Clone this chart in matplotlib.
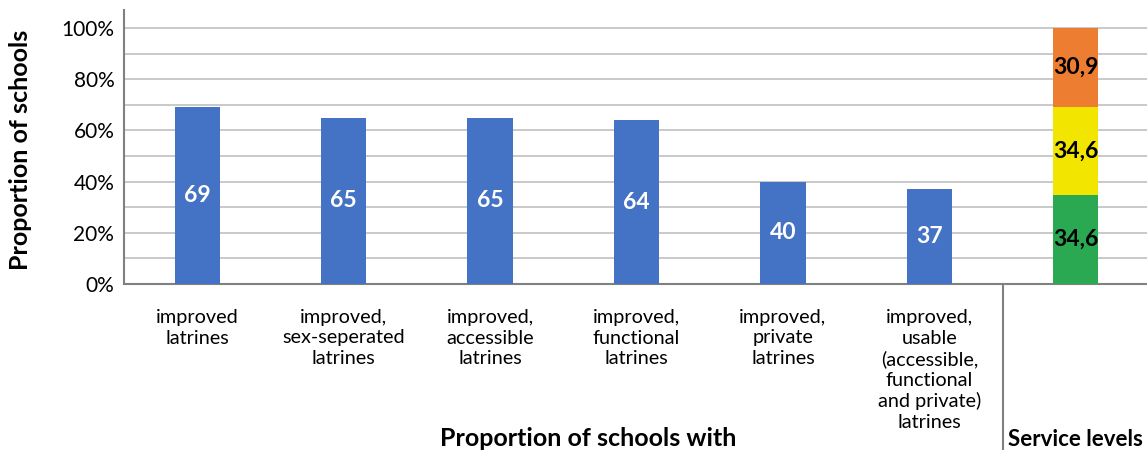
import matplotlib.pyplot as plt
import matplotlib.transforms as mtransforms
import numpy as np

plt.rcParams['font.family'] = ['Lato', 'DejaVu Sans']

categories = ['improved\nlatrines', 'improved,\nsex-seperated\nlatrines',
              'improved,\naccessible\nlatrines', 'improved,\nfunctional\nlatrines',
              'improved,\nprivate\nlatrines',
              'improved,\nusable\n(accessible,\nfunctional\nand private)\nlatrines']
values = [69, 65, 65, 64, 40, 37]

# service level stack (bottom to top)
service_values = [34.6, 34.6, 30.9]
service_labels = ['34,6', '34,6', '30,9']
service_colors = ['#2aa952', '#f2e600', '#ed7d31']

fig = plt.figure(figsize=(11.47, 4.5), dpi=100)
ax = fig.add_axes([124 / 1147, 166 / 450, 1025 / 1147, 274 / 450])

x = np.arange(len(categories))
w = 0.31
ax.bar(x, np.array(values) / 100, width=w, color='#4472c4', zorder=3)
for xi, v in zip(x, values):
    ax.text(xi, v / 200, str(v), ha='center', va='center', color='white',
            fontsize=16.5, fontweight='bold', zorder=4)

xs = len(categories)
bottom = 0
for v, lab, c in zip(service_values, service_labels, service_colors):
    ax.bar(xs, v / 100, bottom=bottom / 100, width=w, color=c, zorder=3)
    ax.text(xs, (bottom + v / 2) / 100, lab, ha='center', va='center',
            color='black', fontsize=16.5, fontweight='bold', zorder=4)
    bottom += v

ax.set_xlim(-0.5, xs + 0.5)
ax.set_ylim(0, 1.07)
ax.set_yticks(np.arange(0, 1.01, 0.2))
ax.set_yticklabels([f'{int(round(t * 100))}%' for t in np.arange(0, 1.01, 0.2)],
                   fontsize=15)
ax.set_yticks(np.arange(0.1, 1.0, 0.2), minor=True)
ax.yaxis.grid(True, which='both', color='#c0c0c0', linewidth=1.2, zorder=0)
ax.set_xticks(list(x) + [xs])
ax.set_xticklabels(categories + [''], fontsize=14.3, linespacing=1.25)
ax.tick_params(axis='x', length=0, pad=18)
ax.tick_params(axis='y', which='both', length=0, pad=7)

for s in ['top', 'right']:
    ax.spines[s].set_visible(False)
for s in ['left', 'bottom']:
    ax.spines[s].set_color('#808080')
    ax.spines[s].set_linewidth(1.5)

# separator between groups
trans = mtransforms.blended_transform_factory(ax.transData, ax.transAxes)
ax.plot([xs - 0.5, xs - 0.5], [0, -0.62], transform=trans, color='#808080',
        linewidth=1.5, clip_on=False)

ax.set_ylabel('Proportion of schools', fontsize=18, fontweight='bold')
ax.yaxis.set_label_coords(-0.09, 0.489)
fig.text(588 / 1147, 1 - 439 / 450, 'Proportion of schools with', ha='center',
         va='center', fontsize=18, fontweight='bold')
fig.text(1075 / 1147, 1 - 439 / 450, 'Service levels', ha='center',
         va='center', fontsize=16, fontweight='bold')

fig.savefig('out.png', dpi=100)
